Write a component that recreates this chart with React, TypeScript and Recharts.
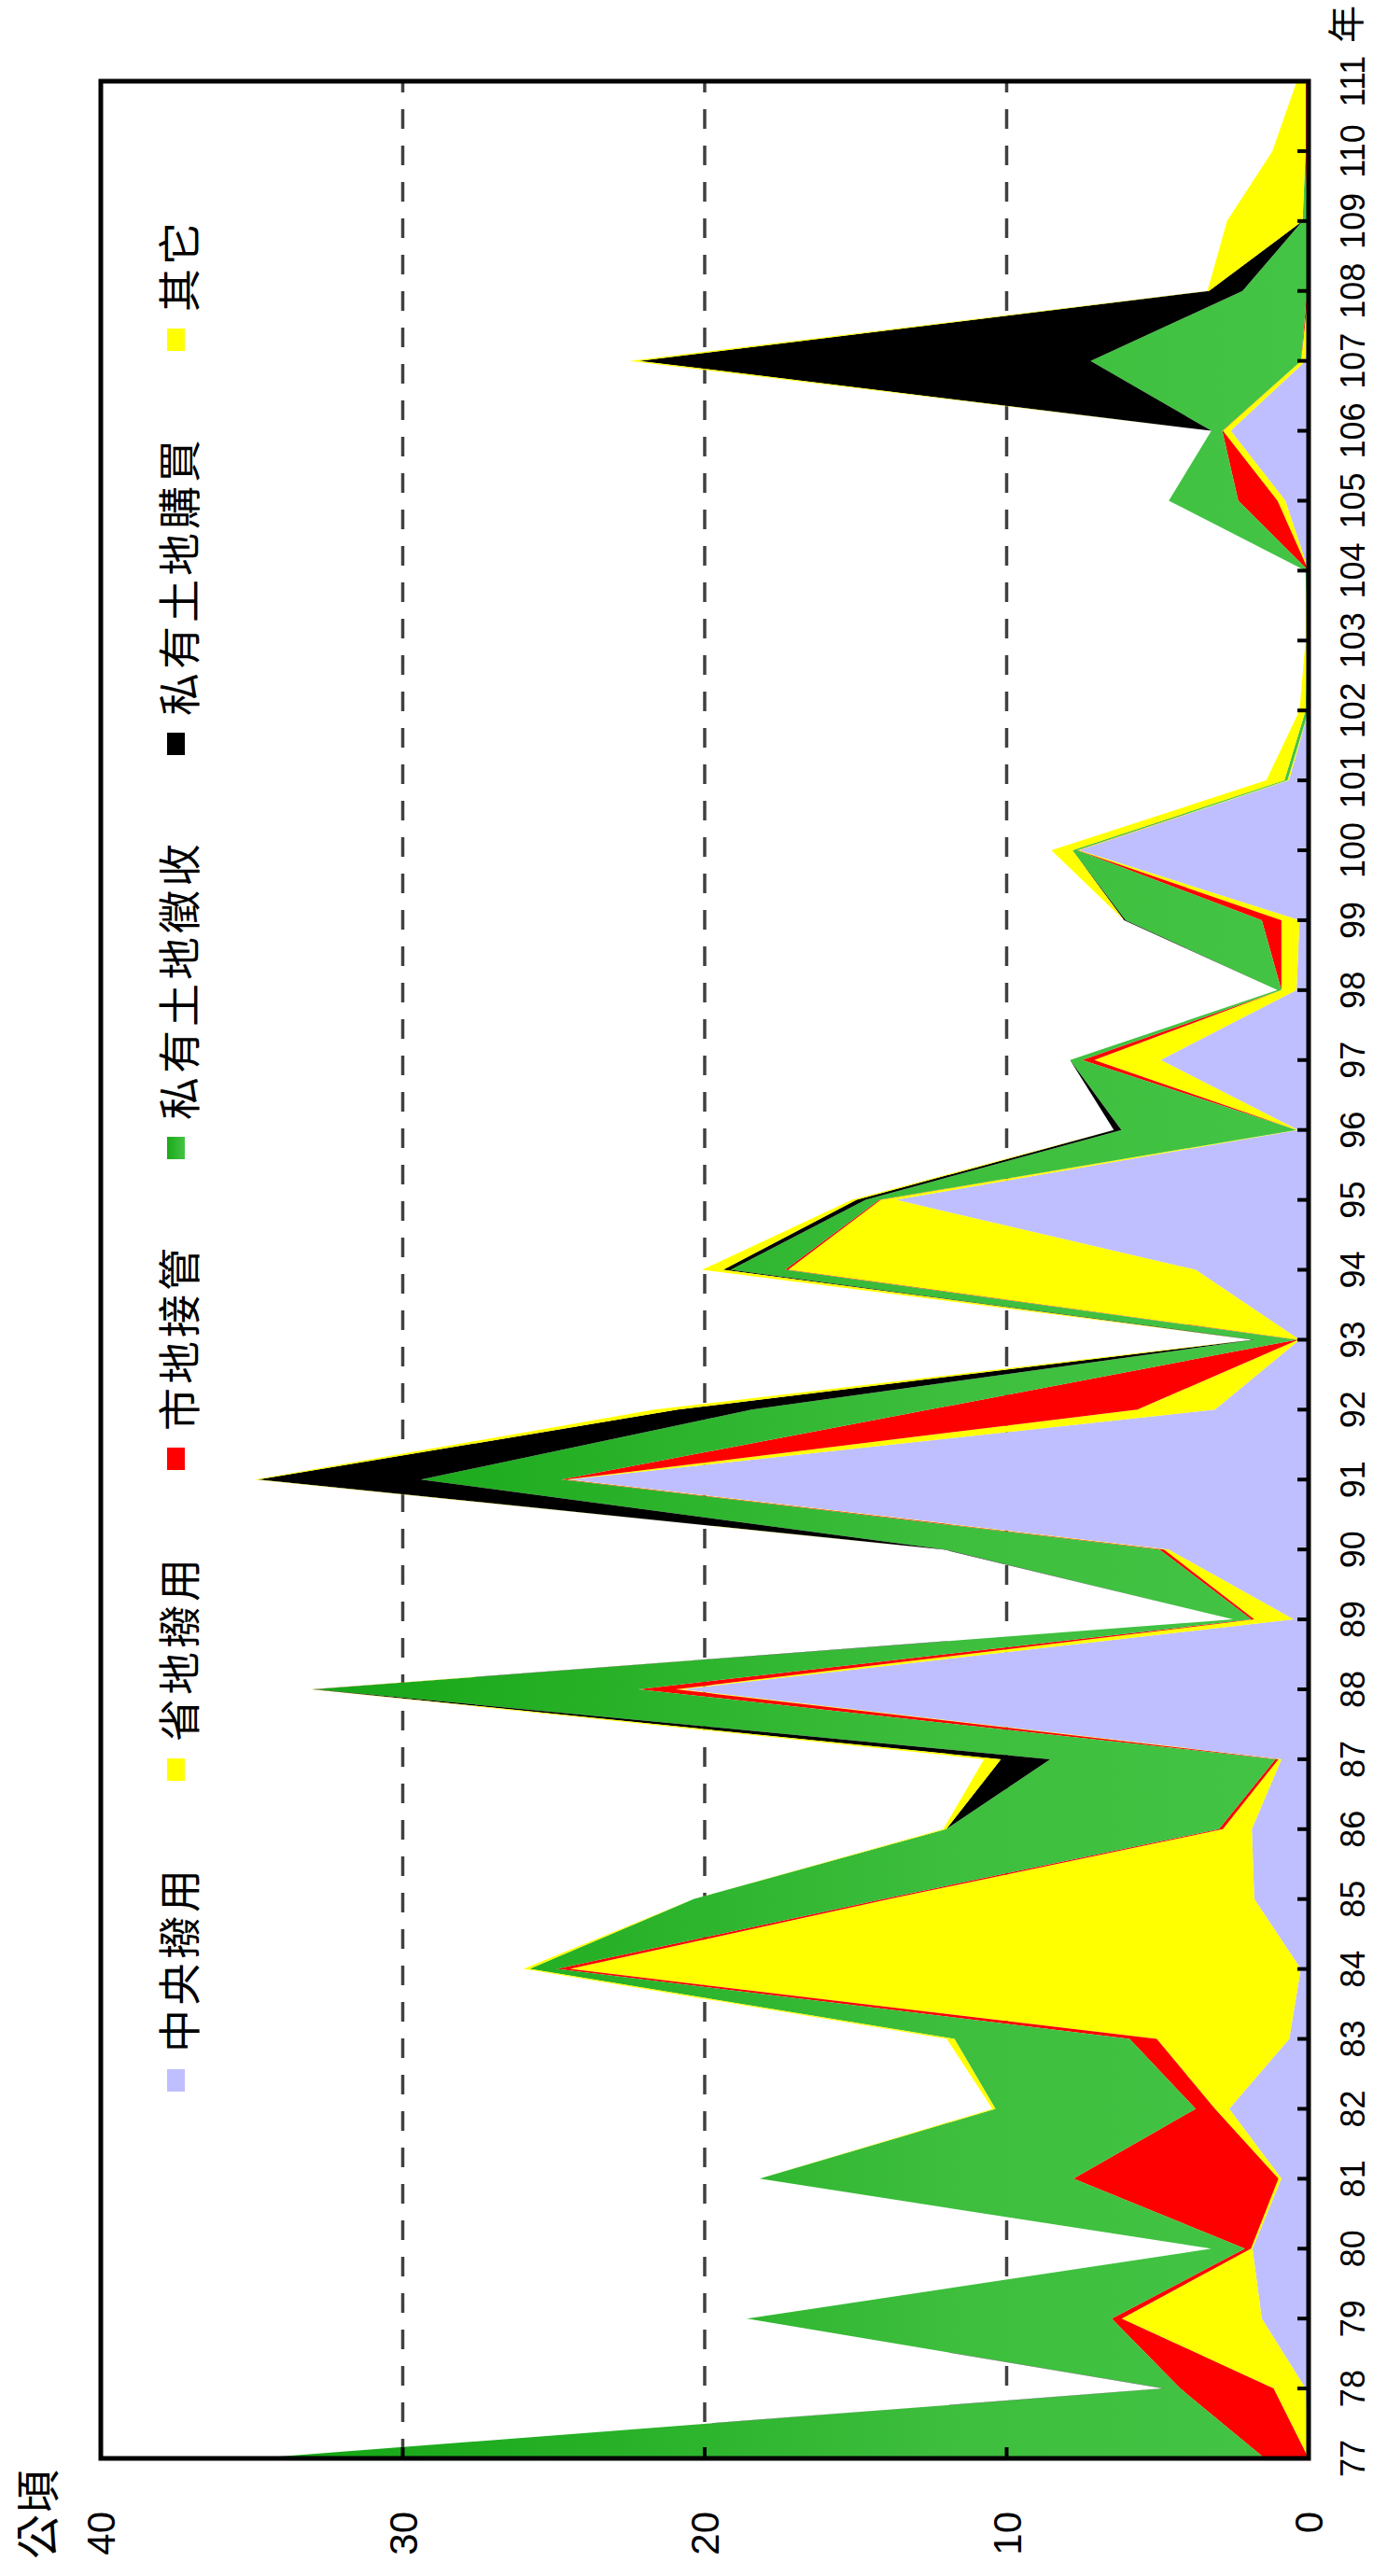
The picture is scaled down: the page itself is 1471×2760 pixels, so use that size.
import { AreaChart, Area, XAxis, YAxis, CartesianGrid } from 'recharts';

// chart is laid out upright (2760 x 1471) and turned 90deg to fit the portrait page
const years = [77, 78, 79, 80, 81, 82, 83, 84, 85, 86, 87, 88, 89, 90, 91, 92, 93, 94, 95, 96, 97, 98, 99, 100, 101, 102, 103, 104, 105, 106, 107, 108, 109, 110, 111];
const valueTicks = [0, 10, 20, 30, 40];

// 公頃, per year
const central = [0, 0.1, 1.55, 1.86, 0.9, 2.63, 0.64, 0.26, 1.8, 1.88, 0.9, 20.76, 0.5, 4.64, 24.5, 3.1, 0.3, 3.74, 13.67, 0.35, 4.9, 0.4, 0.3, 7.6, 0.65, 0, 0, 0, 0.77, 2.58, 0.1, 0, 0, 0, 0];
const province = [0, 1.06, 4.64, 0.05, 0.1, 0.47, 4.39, 24.2, 12.1, 0.96, 0.1, 0.2, 1.3, 0.15, 0.1, 2.57, 0.05, 13.5, 0.5, 0.05, 2.2, 0.5, 0.6, 0.05, 0.05, 0, 0, 0, 0.26, 0.26, 0.15, 0, 0, 0, 0];
const city = [1.45, 3.09, 0.33, 0.2, 6.79, 0.64, 0.9, 0.44, 0.2, 0.13, 0.1, 1.24, 0.1, 0.15, 0.15, 6.9, 0.05, 0.1, 0.05, 0, 0.4, 0, 0.65, 0.02, 0, 0, 0, 0, 1.3, 0.02, 0, 0.05, 0.05, 0.1, 0.1];
const expropriation = [33.45, 0.52, 12.08, 1.11, 10.39, 6.63, 5.8, 0.9, 6.27, 9.03, 7.46, 10.7, 0.6, 7.1, 4.65, 5.87, 1.4, 1.8, 0.45, 5.8, 0.4, 0.13, 4.51, 0.15, 0.1, 0.1, 0.05, 0.1, 2.3, 0.36, 6.97, 2.14, 0.15, 0, 0];
const purchase = [0, 0.05, 0, 0, 0, 0, 0, 0, 0, 0, 1.63, 0.1, 0, 0.05, 5.4, 2.45, 0.05, 0.25, 0.3, 0.25, 0, 0, 0.05, 0, 0, 0, 0, 0, 0, 0, 14.96, 1.11, 0, 0, 0];
const other = [0, 0, 0, 0, 0, 0.1, 0.25, 0.2, 0, 0.1, 0.56, 0.05, 0, 0, 0.1, 0.77, 0, 0.7, 0.15, 0, 0, 0, 0, 0.7, 0.6, 0.2, 0.05, 0, 0, 0, 0.3, 0.05, 2.5, 1.1, 0.29];

const series = [
  { key: 'central', name: '中央撥用', fill: '#BFBFFF', swatch: '#BFBFFF' },
  { key: 'province', name: '省地撥用', fill: '#FFFF00', swatch: '#FFFF00' },
  { key: 'city', name: '市地接管', fill: '#FF0000', swatch: '#FF0000' },
  { key: 'expropriation', name: '私有土地徵收', fill: 'url(#greenFade)', swatch: 'url(#greenSwatch)' },
  { key: 'purchase', name: '私有土地購買', fill: '#000000', swatch: '#000000' },
  { key: 'other', name: '其它', fill: '#FFFF00', swatch: '#FFFF00' },
];

const data = years.map((year, i) => ({
  year,
  central: central[i],
  province: province[i],
  city: city[i],
  expropriation: expropriation[i],
  purchase: purchase[i],
  other: other[i],
}));

const NUM_FONT = '"Liberation Sans", Arial, sans-serif';
const CJK_FONT = '"Noto Sans CJK TC", "Noto Sans CJK SC", sans-serif';

// plot box (upright coordinates)
const PLOT = { left: 126, top: 108, right: 87, bottom: 69 };
const W = 2760;
const H = 1471;

function YearTick({ x, y, payload }: any) {
  return (
    <g>
      <line x1={x} y1={y} x2={x} y2={y - 12} stroke="#000" strokeWidth={4} />
      <text x={x} y={y + 60} textAnchor="middle" fontSize={36} fontFamily={NUM_FONT} fill="#000">
        {payload.value}
      </text>
    </g>
  );
}

function ValueTick({ x, y, payload }: any) {
  return (
    <g>
      <line x1={x} y1={y} x2={x + 12} y2={y} stroke="#000" strokeWidth={4} />
      <text x={x - 57} y={y + 15} textAnchor="end" fontSize={42} fontFamily={NUM_FONT} fill="#000">
        {payload.value}
      </text>
    </g>
  );
}

function Overlay() {
  let sx = 519;
  const items = series.map((s) => {
    const item = { ...s, x: sx };
    sx += 40 + s.name.length * 50 + 93;
    return item;
  });
  return (
    <svg width={W} height={H} style={{ position: 'absolute', left: 0, top: 0, pointerEvents: 'none' }}>
      <defs>
        <linearGradient id="greenSwatch" x1="0" y1="0" x2="0" y2="1">
          <stop offset="0%" stopColor="#1aa91a" />
          <stop offset="100%" stopColor="#44c444" />
        </linearGradient>
      </defs>
      <rect
        x={PLOT.left}
        y={PLOT.top}
        width={W - PLOT.left - PLOT.right}
        height={H - PLOT.top - PLOT.bottom}
        fill="none"
        stroke="#000"
        strokeWidth={5}
      />
      <text x={18} y={58} fontSize={48} fontFamily={CJK_FONT} fill="#000">公頃</text>
      <text x={2714} y={1457} fontSize={40} fontFamily={CJK_FONT} fill="#000">年</text>
      {items.map((it) => (
        <g key={it.key}>
          <rect x={it.x} y={179} width={24} height={19} fill={it.swatch} />
          <text x={it.x + 42} y={209} fontSize={46} letterSpacing={4} fontFamily={CJK_FONT} fill="#000">
            {it.name}
          </text>
        </g>
      ))}
    </svg>
  );
}

export default function App() {
  return (
    <div style={{ position: 'absolute', left: 0, top: 0, width: H, height: W, overflow: 'hidden', background: '#fff' }}>
      <div
        style={{
          position: 'absolute',
          left: 0,
          top: 0,
          width: W,
          height: H,
          transformOrigin: '0 0',
          transform: `translateY(${W}px) rotate(-90deg)`,
        }}
      >
        <AreaChart width={W} height={H} data={data} margin={{ top: PLOT.top, right: PLOT.right, bottom: 0, left: 0 }}>
          <defs>
            <linearGradient id="greenFade" gradientUnits="userSpaceOnUse" x1="0" y1={PLOT.top} x2="0" y2={H - PLOT.bottom}>
              <stop offset="0%" stopColor="#089e08" />
              <stop offset="70%" stopColor="#3dbe3d" />
              <stop offset="100%" stopColor="#44c444" />
            </linearGradient>
          </defs>
          <CartesianGrid vertical={false} stroke="#404040" strokeWidth={3.5} strokeDasharray="21 18" />
          {series.map((s) => (
            <Area
              key={s.key}
              type="linear"
              dataKey={s.key}
              name={s.name}
              stackId="a"
              stroke="none"
              fill={s.fill}
              fillOpacity={1}
              dot={false}
              activeDot={false}
              isAnimationActive={false}
            />
          ))}
          <XAxis
            dataKey="year"
            type="number"
            domain={[77, 111]}
            ticks={years}
            interval={0}
            height={PLOT.bottom}
            tickSize={0}
            tickMargin={0}
            tickLine={false}
            axisLine={false}
            tick={YearTick}
          />
          <YAxis
            type="number"
            domain={[0, 40]}
            ticks={valueTicks}
            interval={0}
            width={PLOT.left}
            tickSize={0}
            tickMargin={0}
            tickLine={false}
            axisLine={false}
            tick={ValueTick}
          />
        </AreaChart>
        <Overlay />
      </div>
    </div>
  );
}
